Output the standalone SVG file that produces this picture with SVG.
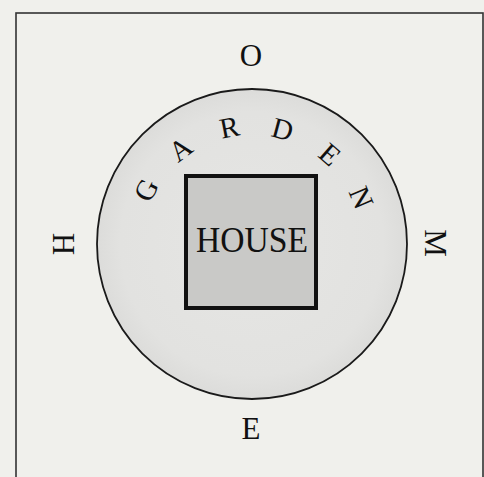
<svg xmlns="http://www.w3.org/2000/svg" width="484" height="477" viewBox="0 0 484 477">
<style>
text { font-family: "Liberation Serif", "Times New Roman", serif; fill: #111; }
.dir { font-size: 31px; text-anchor: middle; }
.arc { font-size: 29px; text-anchor: middle; }
</style>
<defs>
<radialGradient id="g" cx="0.5" cy="0.5" r="0.5">
<stop offset="0" stop-color="#e6e6e4"/>
<stop offset="0.85" stop-color="#e2e2e0"/>
<stop offset="1" stop-color="#dcdcda"/>
</radialGradient>
</defs>
<rect x="0" y="0" width="484" height="477" fill="#f0f0ec"/>
<rect id="frame" x="16" y="13" width="467" height="472" fill="none" stroke="#333" stroke-width="1.6"/>
<g id="garden">
<circle cx="252" cy="244" r="155" fill="url(#g)" stroke="#1a1a1a" stroke-width="1.8"/>
<text class="arc" x="252" y="135" transform="rotate(-63 252 244)">G</text>
<text class="arc" x="252" y="135" transform="rotate(-37 252 244)">A</text>
<text class="arc" x="252" y="135" transform="rotate(-11 252 244)">R</text>
<text class="arc" x="252" y="135" transform="rotate(15 252 244)">D</text>
<text class="arc" x="252" y="135" transform="rotate(41 252 244)">E</text>
<text class="arc" x="252" y="135" transform="rotate(67 252 244)">N</text>
</g>
<g id="house">
<rect x="186" y="176" width="130" height="132" fill="#c9c9c7" stroke="#111" stroke-width="4"/>
<text x="252" y="252" font-size="36" text-anchor="middle" textLength="112" lengthAdjust="spacingAndGlyphs">HOUSE</text>
</g>
<g id="north"><text class="dir" x="251" y="66">O</text></g>
<g id="south"><text class="dir" x="251" y="439">E</text></g>
<g id="west"><text class="dir" x="64" y="254" transform="rotate(-90 64 244)">H</text></g>
<g id="east"><text class="dir" x="435" y="253" transform="rotate(90 435 243)">M</text></g>
</svg>
